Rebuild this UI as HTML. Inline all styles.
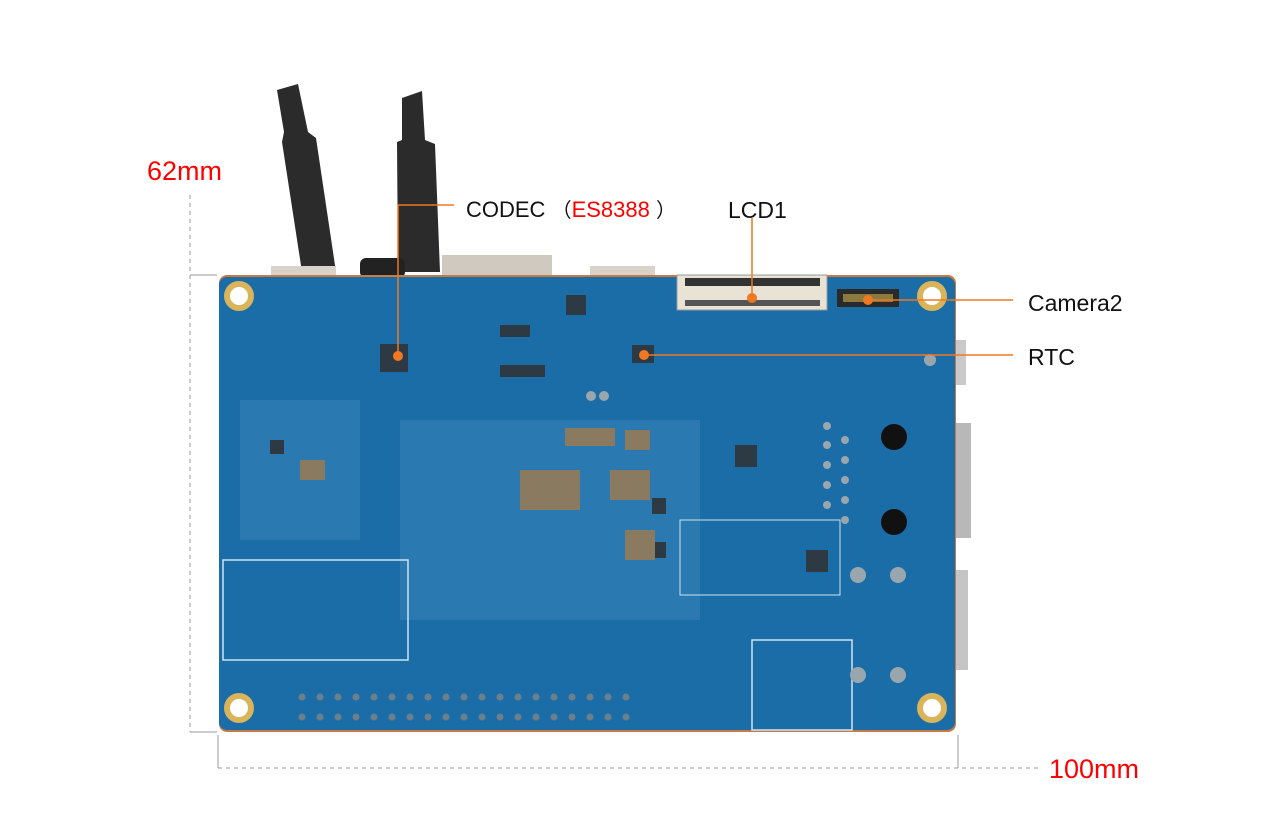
<!DOCTYPE html>
<html><head><style>
body{margin:0;background:#fff;width:1282px;height:835px;overflow:hidden;font-family:"Liberation Sans",sans-serif}
.t{position:absolute;font-size:23px;color:#111;white-space:nowrap}
</style></head><body>
<svg width="1282" height="835" style="position:absolute;left:0;top:0">
<g fill="#2b2b2b">
<polygon points="277,90 298,84 308,132 316,138 336,272 302,272 282,142 284,132"/>
<polygon points="402,98 422,91 425,140 435,144 440,272 398,272 397,142 402,140"/>
</g>
<rect x="271" y="266" width="65" height="12" fill="#d8d2c8"/>
<rect x="360" y="258" width="45" height="20" rx="6" fill="#222"/>
<rect x="442" y="255" width="110" height="23" fill="#cfc9bf"/>
<rect x="590" y="266" width="65" height="12" fill="#d8d2c8"/>
<rect x="953" y="340" width="13" height="45" fill="#c9c9c9"/>
<rect x="953" y="423" width="18" height="115" fill="#b8b8b8"/>
<rect x="953" y="570" width="15" height="100" fill="#c5c5c5"/>
<rect x="219" y="275" width="737" height="457" rx="8" fill="#c87a45"/>
<rect x="219" y="277" width="736" height="453" rx="8" fill="#1a6da6"/>
<g fill="#2a79b0">
<rect x="400" y="420" width="300" height="200"/>
<rect x="240" y="400" width="120" height="140"/>
</g>
<rect x="223" y="560" width="185" height="100" fill="none" stroke="#cfe3f0" stroke-width="1.5"/>
<rect x="752" y="640" width="100" height="90" fill="none" stroke="#cfe3f0" stroke-width="1.5"/>
<rect x="680" y="520" width="160" height="75" fill="none" stroke="#cfe3f0" stroke-width="1"/>
<g fill="#fff" stroke="#d9b45a" stroke-width="6">
<circle cx="239" cy="296" r="12"/><circle cx="932" cy="296" r="12"/>
<circle cx="239" cy="708" r="12"/><circle cx="932" cy="708" r="12"/>
</g>
<rect x="677" y="275" width="150" height="35" fill="#e9e3d6" stroke="#999"/>
<rect x="685" y="278" width="135" height="8" fill="#333"/>
<rect x="685" y="300" width="135" height="6" fill="#555"/>
<rect x="837" y="289" width="62" height="18" fill="#2a2a2a"/>
<rect x="843" y="294" width="50" height="8" fill="#8a7a40"/>
<g fill="#2d3a44">
<rect x="380" y="344" width="28" height="28"/>
<rect x="632" y="345" width="22" height="18"/>
<rect x="566" y="295" width="20" height="20"/>
<rect x="735" y="445" width="22" height="22"/>
<rect x="806" y="550" width="22" height="22"/>
<rect x="652" y="498" width="14" height="16"/>
<rect x="652" y="542" width="14" height="16"/>
<rect x="270" y="440" width="14" height="14"/>
<rect x="500" y="325" width="30" height="12"/><rect x="500" y="365" width="45" height="12"/>
</g>
<g fill="#8a7a60">
<rect x="565" y="428" width="50" height="18"/><rect x="610" y="470" width="40" height="30"/>
<rect x="625" y="530" width="30" height="30"/><rect x="625" y="430" width="25" height="20"/>
<rect x="300" y="460" width="25" height="20"/><rect x="520" y="470" width="60" height="40"/>
</g>
<circle cx="894" cy="437" r="13" fill="#111"/><circle cx="894" cy="522" r="13" fill="#111"/>
<g fill="#9aa6ad">
<circle cx="827" cy="426" r="4"/><circle cx="827" cy="445" r="4"/><circle cx="827" cy="465" r="4"/><circle cx="827" cy="485" r="4"/><circle cx="827" cy="505" r="4"/>
<circle cx="845" cy="440" r="4"/><circle cx="845" cy="460" r="4"/><circle cx="845" cy="480" r="4"/><circle cx="845" cy="500" r="4"/><circle cx="845" cy="520" r="4"/>
<circle cx="858" cy="575" r="8"/><circle cx="898" cy="575" r="8"/><circle cx="858" cy="675" r="8"/><circle cx="898" cy="675" r="8"/>
<circle cx="930" cy="360" r="6"/><circle cx="591" cy="396" r="5"/><circle cx="604" cy="396" r="5"/>
</g>
<g fill="#6d7f8a">
<g id="r"><circle cx="302" cy="697" r="3.5"/><circle cx="320" cy="697" r="3.5"/><circle cx="338" cy="697" r="3.5"/><circle cx="356" cy="697" r="3.5"/><circle cx="374" cy="697" r="3.5"/><circle cx="392" cy="697" r="3.5"/><circle cx="410" cy="697" r="3.5"/><circle cx="428" cy="697" r="3.5"/><circle cx="446" cy="697" r="3.5"/><circle cx="464" cy="697" r="3.5"/><circle cx="482" cy="697" r="3.5"/><circle cx="500" cy="697" r="3.5"/><circle cx="518" cy="697" r="3.5"/><circle cx="536" cy="697" r="3.5"/><circle cx="554" cy="697" r="3.5"/><circle cx="572" cy="697" r="3.5"/><circle cx="590" cy="697" r="3.5"/><circle cx="608" cy="697" r="3.5"/><circle cx="626" cy="697" r="3.5"/></g>
<use href="#r" y="20"/>
</g>
<g stroke="#999" stroke-width="1" fill="none">
<line x1="190" y1="195" x2="190" y2="732" stroke-dasharray="4,4"/>
<line x1="190" y1="275" x2="217" y2="275"/><line x1="190" y1="732" x2="217" y2="732"/>
<line x1="218" y1="768" x2="1040" y2="768" stroke-dasharray="4,4"/>
<line x1="218" y1="735" x2="218" y2="768"/><line x1="958" y1="735" x2="958" y2="768"/>
</g>
<g stroke="#f07820" stroke-width="1.5" fill="none">
<polyline points="454,205 398,205 398,355"/>
<line x1="752" y1="218" x2="752" y2="298"/>
<line x1="868" y1="300" x2="1013" y2="300"/>
<line x1="644" y1="355" x2="1013" y2="355"/>
</g>
<g fill="#f07820">
<circle cx="398" cy="356" r="5"/><circle cx="752" cy="298" r="5"/><circle cx="868" cy="300" r="5"/><circle cx="644" cy="355" r="5"/>
</g>
</svg>
<div class="t" style="left:147px;top:156px;color:#f00;font-size:27px">62mm</div>
<div class="t" style="left:1049px;top:754px;color:#f00;font-size:27px">100mm</div>
<div class="t" style="left:466px;top:194px;font-size:22px">CODEC <span style="font-family:'Noto Sans CJK SC',sans-serif;font-size:20px">（</span><span style="color:#f00">ES8388</span> <span style="font-family:'Noto Sans CJK SC',sans-serif;font-size:20px">）</span></div>
<div class="t" style="left:728px;top:197px">LCD1</div>
<div class="t" style="left:1028px;top:290px">Camera2</div>
<div class="t" style="left:1028px;top:344px">RTC</div>
</body></html>
